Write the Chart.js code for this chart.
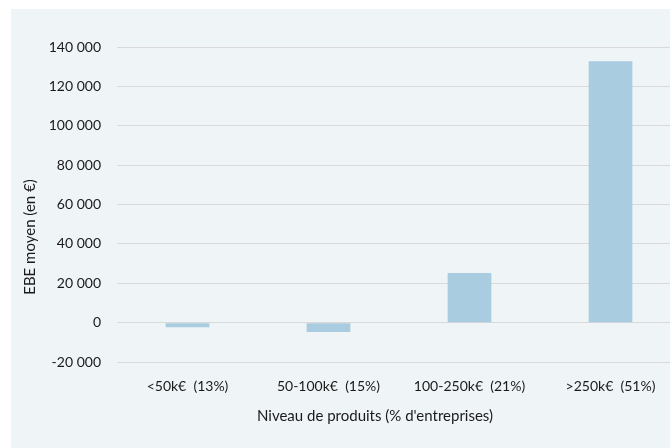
<!DOCTYPE html>
<html>
<head>
<meta charset="utf-8">
<script src="https://cdn.jsdelivr.net/npm/chart.js@4"></script>
<style>
  body { margin: 0; background: #fff; }
  #wrap { position: relative; width: 670px; height: 448px; overflow: hidden; }
  #panel { position: absolute; left: 11px; top: 9px; width: 673px; height: 439px; background: #eff4f7; }
</style>
</head>
<body>
<div id="wrap">
  <div id="panel">
    <canvas id="canvas" width="673" height="439"></canvas>
  </div>
</div>
<script>
// data
var categories = ['<50k€  (13%)', '50-100k€  (15%)', '100-250k€  (21%)', '>250k€  (51%)'];
var ebeValues = [-2400, -4700, 25200, 132700];
var yMin = -20000;
var yMax = 140000;
var yStep = 20000;
var yTitle = 'EBE moyen (en €)';
var xTitle = "Niveau de produits (% d'entreprises)";

var textColor = '#1a1a1a';
var fontFamily = 'Lato, "Open Sans", sans-serif';

function formatNumber(v) {
  var s = Math.abs(v).toString().replace(/\B(?=(\d{3})+(?!\d))/g, ' ');
  return (v < 0 ? '-' : '') + s;
}

// draws the two axis titles where the reference puts them
var axisTitles = {
  id: 'axisTitles',
  afterDraw: function (chart) {
    var ctx = chart.ctx;
    ctx.save();
    ctx.fillStyle = textColor;
    ctx.font = '15px ' + fontFamily;
    ctx.textAlign = 'center';
    ctx.textBaseline = 'middle';
    ctx.fillText(xTitle, 364, 407);
    ctx.translate(19, 228);
    ctx.rotate(-Math.PI / 2);
    ctx.fillText(yTitle, 0, 0);
    ctx.restore();
  }
};

const ctx = document.getElementById('canvas').getContext('2d');
const myChart = new Chart(ctx, {
  type: 'bar',
  data: {
    labels: categories,
    datasets: [
      {
        label: 'EBE moyen',
        data: ebeValues,
        backgroundColor: '#a9cce0',
        borderWidth: 0,
        categoryPercentage: 1,
        barPercentage: 0.31,
      },
    ],
  },
  options: {
    responsive: false,
    animation: false,
    layout: { padding: { top: 38, right: 3, left: 0, bottom: 0 } },
    plugins: {
      legend: { display: false },
      tooltip: { enabled: false },
    },
    scales: {
      x: {
        grid: { display: false, drawTicks: false },
        border: { display: false },
        ticks: {
          color: textColor,
          font: { family: fontFamily, size: 14 },
          padding: 16,
          maxRotation: 0,
        },
        afterFit: function (scale) { scale.height = 86; },
      },
      y: {
        min: yMin,
        max: yMax,
        grid: { color: '#d9d9d9', lineWidth: 1, drawTicks: false },
        border: { display: false },
        ticks: {
          stepSize: yStep,
          color: textColor,
          font: { family: fontFamily, size: 14 },
          padding: 16,
          callback: function (v) { return formatNumber(v); },
        },
        afterFit: function (scale) { scale.width = 106; },
      },
    },
  },
  plugins: [axisTitles],
});
</script>
</body>
</html>
